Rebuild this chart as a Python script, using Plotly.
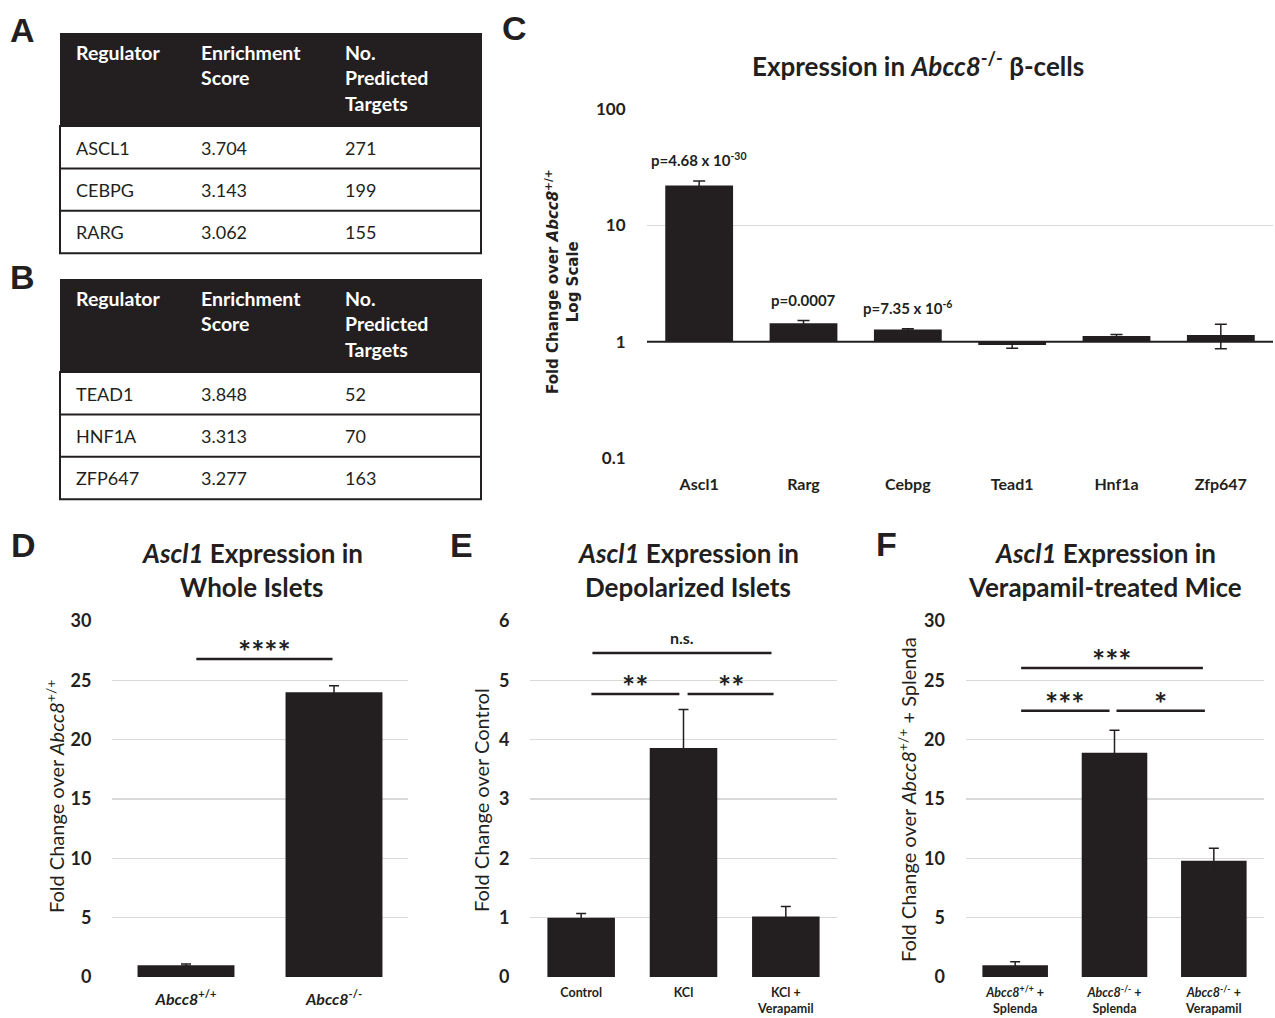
import math
import plotly.graph_objects as go

W, H = 1275, 1018
OFF = 0  # body margin removed via post_script below
INK = "#231f20"
GRID = "#d9d9d9"
FONT = "Lato"

# ---------------- data ----------------
table_columns = ["Regulator", "Enrichment<br>Score", "No.<br>Predicted<br>Targets"]
table_a_regulators = ["ASCL1", "CEBPG", "RARG"]
table_a_scores = ["3.704", "3.143", "3.062"]
table_a_targets = ["271", "199", "155"]
table_b_regulators = ["TEAD1", "HNF1A", "ZFP647"]
table_b_scores = ["3.848", "3.313", "3.277"]
table_b_targets = ["52", "70", "163"]

c_genes = ["Ascl1", "Rarg", "Cebpg", "Tead1", "Hnf1a", "Zfp647"]
c_fold = [22.0, 1.44, 1.27, 0.936, 1.12, 1.14]
c_err = [2.1, 0.08, 0.02, 0.06, 0.035, 0.27]
c_pvals = ["p=4.68 x 10<sup>-30</sup>", "p=0.0007", "p=7.35 x 10<sup>-6</sup>", "", "", ""]
c_ticks = [0.1, 1, 10, 100]
c_ticktext = ["0.1", "1", "10", "100"]

d_groups = ["Abcc8+/+", "Abcc8-/-"]
d_labels = ["<i>Abcc8</i><sup>+/+</sup>", "<i>Abcc8</i><sup>-/-</sup>"]
d_fold = [1.0, 24.0]
d_err = [0.1, 0.55]
d_sig = [(0.07, 0.99, 26.8, "****")]

e_groups = ["Control", "KCl", "KCl + Verapamil"]
e_labels = ["Control", "KCl", "KCl +<br>Verapamil"]
e_fold = [1.0, 3.86, 1.02]
e_err = [0.07, 0.65, 0.17]
e_sig = [(0.11, 1.86, 5.46, "n.s."), (0.10, 0.96, 4.77, "**"), (1.04, 1.88, 4.77, "**")]

f_groups = ["Abcc8+/+ + Splenda", "Abcc8-/- + Splenda", "Abcc8-/- + Verapamil"]
f_labels = ["<i>Abcc8</i><sup>+/+</sup> +<br>Splenda", "<i>Abcc8</i><sup>-/-</sup> +<br>Splenda",
            "<i>Abcc8</i><sup>-/-</sup> +<br>Verapamil"]
f_fold = [1.0, 18.9, 9.8]
f_err = [0.28, 1.9, 1.05]
f_sig = [(0.06, 1.89, 26.03, "***"), (0.06, 0.95, 22.43, "***"), (1.02, 1.91, 22.43, "*")]


def px_x(px):
    return min(1.0, max(0.0, (px - OFF) / W))


def px_y(py):
    return min(1.0, max(0.0, 1 - (py - OFF) / H))


fig = go.Figure()
annotations = []
shapes = []

# ---------------- tables A and B ----------------
TX0, TX1 = 60, 481
HEAD_H, ROW_H = 93, 42.4
TEXT_DROP = 7  # empty white spacer above the body rows, pushes row text to the row centre
COLW = [8, 125, 144, 144]


def add_table(regs, scores, targets, top):
    body_top = top + HEAD_H
    # header block
    fig.add_trace(go.Table(
        domain=dict(x=[px_x(TX0), px_x(TX1)], y=[px_y(body_top), px_y(top)]),
        columnwidth=COLW,
        header=dict(values=[""] + [f"<b>{c}</b>" for c in table_columns],
                    fill_color=INK, line=dict(color=INK, width=1), align="left",
                    height=HEAD_H, font=dict(family=FONT, size=19.5, color="white")),
        cells=dict(values=[[], [], [], []]),
    ))
    # body rows
    body_h = TEXT_DROP + len(regs) * ROW_H
    fig.add_trace(go.Table(
        domain=dict(x=[px_x(TX0), px_x(TX1)], y=[px_y(body_top + body_h), px_y(body_top)]),
        columnwidth=COLW,
        header=dict(values=["", "", "", ""], fill_color="white", line=dict(color="white", width=1),
                    height=TEXT_DROP, font=dict(family=FONT, size=4, color="white")),
        cells=dict(values=[[""] * len(regs), regs, scores, targets],
                   fill_color="white", line=dict(color="white", width=1), align="left",
                   height=ROW_H, font=dict(family=FONT, size=18, color=INK)),
    ))
    bottom = body_top + len(regs) * ROW_H
    shapes.append(dict(type="rect", xref="paper", yref="paper", x0=px_x(TX0), x1=px_x(TX1),
                       y0=px_y(bottom), y1=px_y(body_top), line=dict(color=INK, width=2)))
    for k in range(1, len(regs)):
        yy = body_top + k * ROW_H
        shapes.append(dict(type="line", xref="paper", yref="paper", x0=px_x(TX0), x1=px_x(TX1),
                           y0=px_y(yy), y1=px_y(yy), line=dict(color=INK, width=2)))


add_table(table_a_regulators, table_a_scores, table_a_targets, 33)
add_table(table_b_regulators, table_b_scores, table_b_targets, 279)

# ---------------- panel C (log) ----------------
fig.add_trace(go.Bar(
    x=c_genes, y=[v - 1 for v in c_fold], base=[1] * len(c_fold), width=0.65,
    marker=dict(color=INK, line=dict(width=0)),
    error_y=dict(type="data", array=c_err, color=INK, thickness=1.5, width=6),
    xaxis="x", yaxis="y", showlegend=False, hoverinfo="skip",
))
shapes.append(dict(type="line", xref="x domain", yref="y", x0=0, x1=1, y0=1, y1=1,
                   line=dict(color=INK, width=2)))
for g, v, e, p in zip(c_genes, c_fold, c_err, c_pvals):
    if p:
        annotations.append(dict(x=g, y=math.log10(v + e), xref="x", yref="y", text=f"<b>{p}</b>",
                                showarrow=False, yanchor="middle", yshift=21,
                                font=dict(family=FONT, size=15, color=INK)))

# ---------------- panels D, E, F ----------------
panels = [
    ("x2", "y2", d_groups, d_labels, d_fold, d_err, d_sig, 0.655),
    ("x3", "y3", e_groups, e_labels, e_fold, e_err, e_sig, 0.66),
    ("x4", "y4", f_groups, f_labels, f_fold, f_err, f_sig, 0.66),
]
for xa, ya, groups, labels, fold, err, sig, bw in panels:
    fig.add_trace(go.Bar(
        x=groups, y=fold, width=bw,
        marker=dict(color=INK, line=dict(width=0)),
        error_y=dict(type="data", array=err, color=INK, thickness=1.5, width=5),
        xaxis=xa, yaxis=ya, showlegend=False, hoverinfo="skip",
    ))
    for x0, x1, yv, lab in sig:
        shapes.append(dict(type="line", xref=xa, yref=ya, x0=x0, x1=x1, y0=yv, y1=yv,
                           line=dict(color=INK, width=2.5)))
        is_star = "*" in lab
        annotations.append(dict(x=(x0 + x1) / 2, y=yv, xref=xa, yref=ya, text=f"<b>{lab}</b>",
                                showarrow=False, yanchor="middle", yshift=8 if is_star else 16,
                                font=dict(family=FONT, size=31 if is_star else 16, color=INK)))

# ---------------- axes ----------------
YD = [px_y(977), px_y(621)]
tickfont_y = dict(family=FONT, size=18, color=INK, weight="bold")


def cat_xaxis(dom, anchor, groups, labels, fs, tl):
    return dict(domain=dom, anchor=anchor, type="category", categoryarray=groups,
                categoryorder="array", range=[-0.5, len(groups) - 0.5], showgrid=False,
                zeroline=False, showline=False, ticks="outside", ticklen=tl, automargin=False,
                tickcolor="rgba(0,0,0,0)", tickvals=groups, ticktext=labels,
                tickfont=dict(family=FONT, size=fs, color=INK, weight="bold"), fixedrange=True)


def lin_yaxis(anchor, rng, dtick):
    return dict(domain=YD, anchor=anchor, range=rng, dtick=dtick, showgrid=True, gridcolor=GRID,
                gridwidth=1.5, zeroline=False, showline=False, ticks="outside", ticklen=16,
                automargin=False, tickcolor="rgba(0,0,0,0)", tickfont=tickfont_y, fixedrange=True)


layout = dict(
    template="none",
    width=W, height=H, autosize=False, margin=dict(l=0, r=0, t=0, b=0, pad=0),
    paper_bgcolor="white", plot_bgcolor="white", showlegend=False,
    xaxis=cat_xaxis([px_x(647), px_x(1273)], "y", c_genes, [f"<b>{g}</b>" for g in c_genes], 16, 12),
    yaxis=dict(domain=[px_y(458), px_y(109)], anchor="x", type="log", range=[-1, 2],
               tickvals=c_ticks, ticktext=c_ticktext, showgrid=True, gridcolor=GRID, gridwidth=1.5,
               zeroline=False, showline=False, ticks="outside", ticklen=17, automargin=False,
               tickcolor="rgba(0,0,0,0)", tickfont=dict(family=FONT, size=17, color=INK, weight="bold"),
               fixedrange=True),
    xaxis2=cat_xaxis([px_x(112), px_x(408)], "y2", d_groups, d_labels, 16, 8),
    yaxis2=lin_yaxis("x2", [0, 30], 5),
    xaxis3=cat_xaxis([px_x(530), px_x(837)], "y3", e_groups, e_labels, 12.5, 4),
    yaxis3=lin_yaxis("x3", [0, 6], 1),
    xaxis4=cat_xaxis([px_x(965.5), px_x(1263.5)], "y4", f_groups, f_labels, 12.5, 4),
    yaxis4=lin_yaxis("x4", [0, 30], 5),
)


def pa(px, py, text, size, bold=True, angle=0, family=FONT):
    if bold:
        text = f"<b>{text}</b>"
    annotations.append(dict(x=px_x(px), y=px_y(py), xref="paper", yref="paper", text=text,
                            showarrow=False, textangle=angle, xanchor="center", yanchor="middle",
                            font=dict(family=family, size=size, color=INK)))


# panel letters
for letter, lx, ly in [("A", 22, 30), ("B", 22, 277), ("C", 514, 28),
                       ("D", 23, 545), ("E", 461, 545), ("F", 886, 544)]:
    pa(lx, ly, letter, 34, family="Liberation Sans")

# titles
pa(918, 64, "Expression in <i>Abcc8</i><sup>-/-</sup> β-cells", 26)
pa(252, 553, "<i>Ascl1</i> Expression in", 26)
pa(252, 587, "Whole Islets", 26)
pa(688, 553, "<i>Ascl1</i> Expression in", 26)
pa(688, 587, "Depolarized Islets", 26)
pa(1105, 553, "<i>Ascl1</i> Expression in", 26)
pa(1105, 587, "Verapamil-treated Mice", 26)

# axis titles
pa(562, 282, "Fold Change over <i>Abcc8</i><sup>+/+</sup><br>Log Scale", 15, angle=-90,
   family="DejaVu Sans")
pa(55, 797, "Fold Change over <i>Abcc8</i><sup>+/+</sup>", 20, bold=False, angle=-90)
pa(481, 800, "Fold Change over Control", 20, bold=False, angle=-90)
pa(907, 800, "Fold Change over <i>Abcc8</i><sup>+/+</sup> + Splenda", 20, bold=False, angle=-90)

layout["annotations"] = annotations
layout["shapes"] = shapes
fig.update_layout(**layout)
fig.write_html(
    "out.html",
    config={"displayModeBar": False, "staticPlot": True},
    post_script="document.body.style.margin='0';document.body.style.overflow='hidden';",
)
